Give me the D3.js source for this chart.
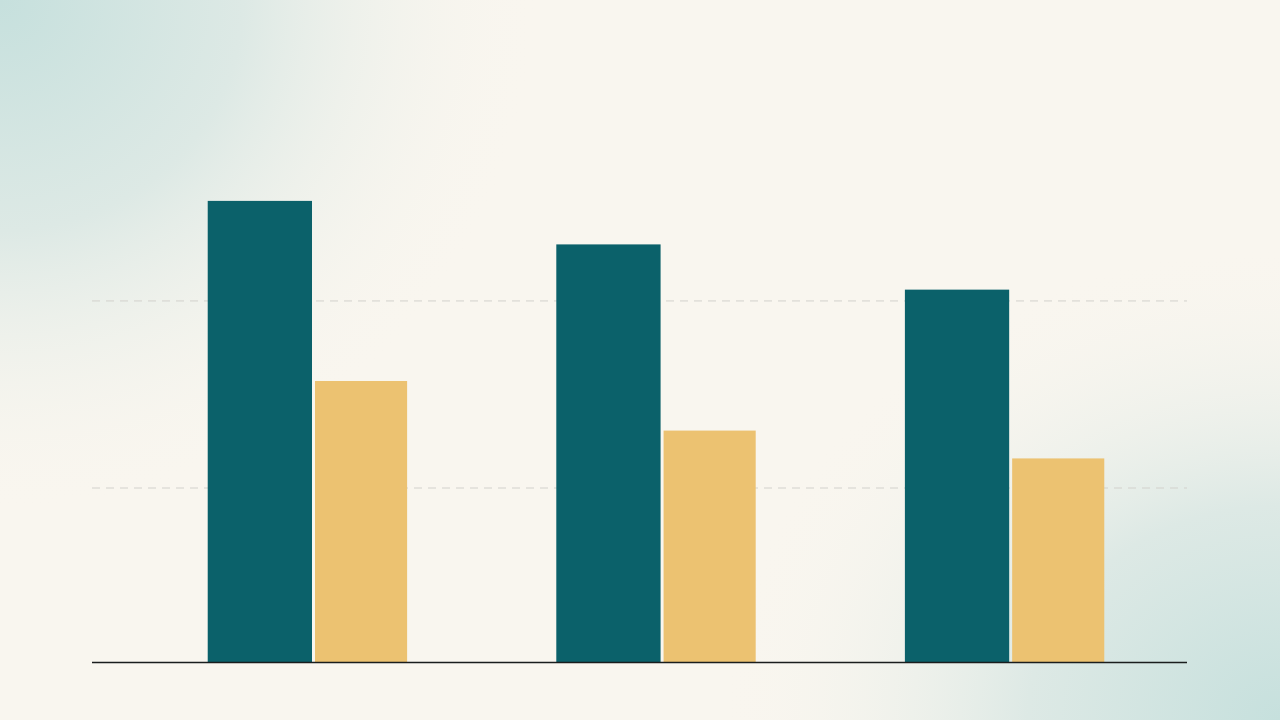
<!DOCTYPE html>
<html>
<head>
<meta charset="UTF-8">
<script src="https://cdn.jsdelivr.net/npm/d3@7"></script>
<style>
  html, body { margin: 0; padding: 0; }
  body {
    width: 1280px; height: 720px; overflow: hidden;
    background: #f9f6ef;
  }
  svg { display: block; }
</style>
</head>
<body>
<svg id="chart" width="1280" height="720"></svg>
<script>
// data (no labels shown in the original)
const categories = ['A', 'B', 'C'];
const seriesNames = ['teal', 'gold'];
const tealValues = [265, 240, 214];
const goldValues = [161.5, 133, 117];
const gridValues = [100, 207.5];

const W = 1280, H = 720;
const svg = d3.select('#chart');

// background tint in two corners
const defs = svg.append('defs');
function cornerGlow(id, cx, cy, r, sy) {
  const g = defs.append('radialGradient').attr('id', id)
    .attr('gradientUnits', 'userSpaceOnUse')
    .attr('cx', cx).attr('cy', cy).attr('r', r)
    .attr('gradientTransform', `translate(${cx},${cy}) scale(1,${sy}) translate(${-cx},${-cy})`);
  g.append('stop').attr('offset', '0%').attr('stop-color', '#c6e0dd');
  g.append('stop').attr('offset', '45%').attr('stop-color', '#dde9e5');
  g.append('stop').attr('offset', '100%').attr('stop-color', '#f9f6ef').attr('stop-opacity', 0);
}
cornerGlow('tl', 0, 0, 540, 0.95);
cornerGlow('br', W, H, 560, 0.85);
svg.append('rect').attr('width', W).attr('height', H).attr('fill', '#f9f6ef');
svg.append('rect').attr('width', W).attr('height', H).attr('fill', 'url(#tl)');
svg.append('rect').attr('width', W).attr('height', H).attr('fill', 'url(#br)');

// scales
const x = d3.scaleBand().domain(categories).range([138, 1174])
  .paddingInner(0.428).paddingOuter(0.2);
const y = d3.scaleLinear().domain([0, 300]).range([662, 140]);
const axisLeft = 92, axisRight = 1187;

// gridlines
svg.append('g').selectAll('line').data(gridValues).join('line')
  .attr('x1', axisLeft).attr('x2', axisRight)
  .attr('y1', d => y(d)).attr('y2', d => y(d))
  .attr('stroke', '#d2d1cc').attr('stroke-width', 1)
  .attr('stroke-dasharray', '8,6');

// bars
const bw = x.bandwidth();
const tealW = bw * 0.523, gap = bw * 0.015;
const colors = { teal: '#0b616a', gold: '#ecc271' };

const groups = svg.append('g').selectAll('g').data(categories).join('g')
  .attr('transform', d => `translate(${x(d)},0)`);

groups.append('rect')
  .attr('x', 0).attr('width', tealW)
  .attr('y', (d, i) => y(tealValues[i]))
  .attr('height', (d, i) => y(0) - y(tealValues[i]))
  .attr('fill', colors.teal);

groups.append('rect')
  .attr('x', tealW + gap).attr('width', bw - tealW - gap)
  .attr('y', (d, i) => y(goldValues[i]))
  .attr('height', (d, i) => y(0) - y(goldValues[i]))
  .attr('fill', colors.gold);

// baseline
svg.append('line')
  .attr('x1', axisLeft).attr('x2', axisRight)
  .attr('y1', y(0) + 0.5).attr('y2', y(0) + 0.5)
  .attr('stroke', '#1a1d1d').attr('stroke-width', 1.5);
</script>
</body>
</html>
